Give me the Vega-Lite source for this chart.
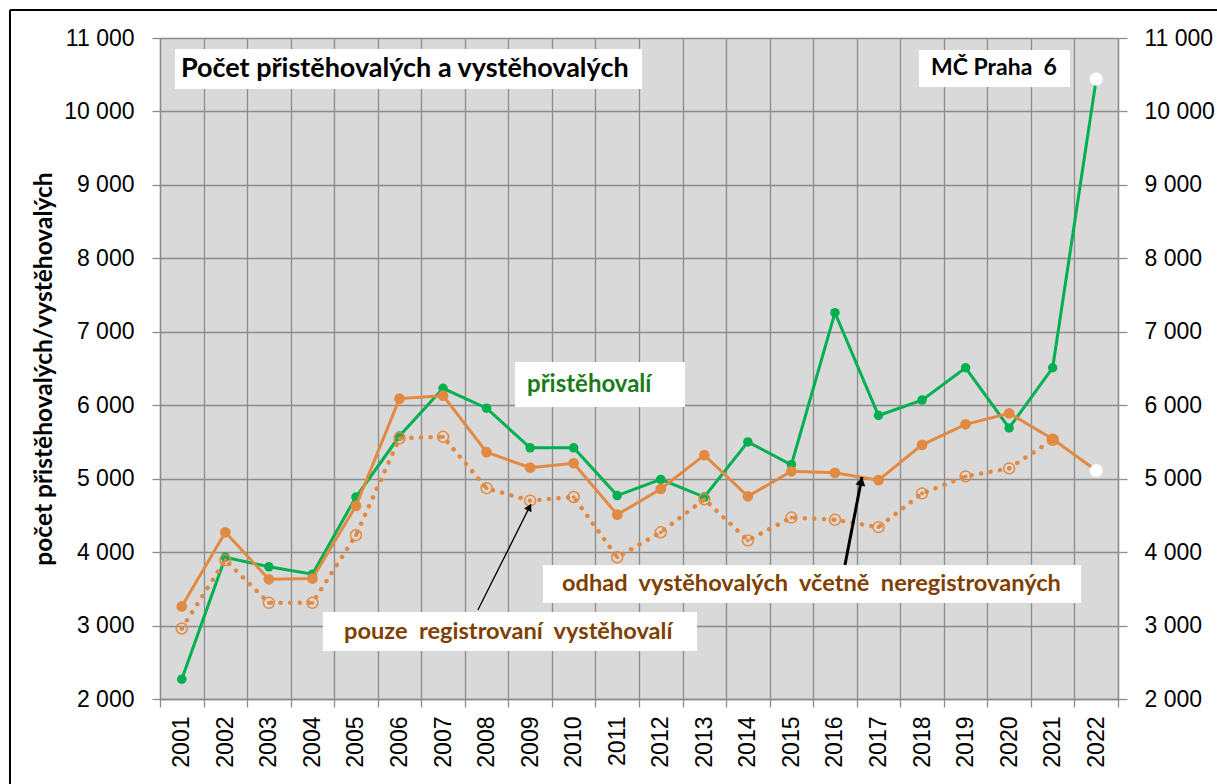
{
  "$schema": "https://vega.github.io/schema/vega-lite/v6.json",
  "width": 958,
  "height": 661,
  "autosize": {"type": "none"},
  "padding": {"left": 160, "top": 38, "right": 99, "bottom": 85},
  "background": "white",
  "config": {"view": {"fill": "#d9d9d9", "stroke": null}},
  "datasets": {
    "series": [
      {"year": 2001, "p": 2270, "o": 3260, "r": 2960},
      {"year": 2002, "p": 3930, "o": 4270, "r": 3890},
      {"year": 2003, "p": 3800, "o": 3630, "r": 3310},
      {"year": 2004, "p": 3700, "o": 3640, "r": 3310},
      {"year": 2005, "p": 4750, "o": 4630, "r": 4230},
      {"year": 2006, "p": 5580, "o": 6090, "r": 5550},
      {"year": 2007, "p": 6230, "o": 6130, "r": 5570},
      {"year": 2008, "p": 5960, "o": 5360, "r": 4870},
      {"year": 2009, "p": 5420, "o": 5150, "r": 4700},
      {"year": 2010, "p": 5420, "o": 5210, "r": 4750},
      {"year": 2011, "p": 4770, "o": 4510, "r": 3930},
      {"year": 2012, "p": 4990, "o": 4860, "r": 4270},
      {"year": 2013, "p": 4750, "o": 5320, "r": 4720},
      {"year": 2014, "p": 5500, "o": 4760, "r": 4160},
      {"year": 2015, "p": 5190, "o": 5100, "r": 4470},
      {"year": 2016, "p": 7260, "o": 5080, "r": 4440},
      {"year": 2017, "p": 5860, "o": 4980, "r": 4340},
      {"year": 2018, "p": 6070, "o": 5460, "r": 4800},
      {"year": 2019, "p": 6510, "o": 5740, "r": 5030},
      {"year": 2020, "p": 5690, "o": 5890, "r": 5140},
      {"year": 2021, "p": 6510, "o": 5540, "r": 5530},
      {"year": 2022, "p": 10440, "o": 5110, "r": null}
    ],
    "boxes": [
      {"x": 2000.844, "x2": 2011.569, "y": 10850, "y2": 10306},
      {"x": 2017.93, "x2": 2021.398, "y": 10837, "y2": 10333},
      {"x": 2008.652, "x2": 2012.556, "y": 6588, "y2": 5975},
      {"x": 2004.243, "x2": 2012.832, "y": 3184, "y2": 2653},
      {"x": 2009.296, "x2": 2021.651, "y": 3824, "y2": 3307}
    ],
    "titleText": [
      {"x": 2000.98, "y": 10578, "text": "Počet přistěhovalých a vystěhovalých"}
    ],
    "blackText": [
      {"x": 2018.206, "y": 10592, "text": "MČ Praha\u00a0 6"}
    ],
    "greenText": [
      {"x": 2008.928, "y": 6275, "text": "přistěhovalí"}
    ],
    "brownText": [
      {"x": 2004.726, "y": 2912, "text": "pouze\u00a0 registrovaní\u00a0 vystěhovalí"},
      {"x": 2009.732, "y": 3565, "text": "odhad\u00a0 vystěhovalých\u00a0 včetně\u00a0 neregistrovaných"}
    ],
    "arrowThin": [{"x": 2007.80, "y": 3211, "x2": 2009.02, "y2": 4655}],
    "arrowThick": [{"x": 2016.23, "y": 3824, "x2": 2016.62, "y2": 5022}],
    "headThin": [{"x": 2008.983, "y": 4611}],
    "headThick": [{"x": 2016.603, "y": 4964}],
    "frame": [
      {"x": 1997.055, "x2": 1997.055, "y": 11381, "y2": 0},
      {"x": 1997.055, "x2": 2026, "y": 11381, "y2": 11381}
    ]
  },
  "layer": [
    {
      "data": {"name": "series"},
      "mark": {"type": "line", "color": "#00b050", "strokeWidth": 3},
      "encoding": {
        "x": {"field": "year", "type": "quantitative",
          "scale": {"domain": [2000.5, 2022.5], "nice": false, "zero": false},
          "axis": {
            "values": [2000.5, 2001.5, 2002.5, 2003.5, 2004.5, 2005.5, 2006.5, 2007.5, 2008.5, 2009.5, 2010.5, 2011.5, 2012.5, 2013.5, 2014.5, 2015.5, 2016.5, 2017.5, 2018.5, 2019.5, 2020.5, 2021.5, 2022.5],
            "title": null, "grid": true, "gridColor": "#8c8c8c", "gridWidth": 1.3,
            "domainColor": "#8c8c8c", "domainWidth": 1.3, "tickColor": "#8c8c8c", "tickWidth": 1.3, "tickSize": 8,
            "labelAngle": -90, "labelOffset": 21.77, "labelPadding": 9,
            "labelExpr": "datum.value < 2022 ? format(datum.value + 0.5, 'd') : ''",
            "labelFont": "Liberation Sans", "labelFontSize": 23, "labelColor": "#000000",
            "labelOverlap": false, "labelFlush": false, "labelBound": false
          }},
        "y": {"field": "p", "type": "quantitative",
          "scale": {"domain": [2000, 11000], "nice": false, "zero": false},
          "axis": {
            "values": [2000, 3000, 4000, 5000, 6000, 7000, 8000, 9000, 10000, 11000],
            "title": "počet přistěhovalých/vystěhovalých",
            "titleFont": "Lato", "titleFontWeight": "bold", "titleFontSize": 24.5, "titleColor": "#000000", "titlePadding": 7,
            "grid": true, "gridColor": "#8c8c8c", "gridWidth": 1.3,
            "domainColor": "#8c8c8c", "domainWidth": 1.3, "tickColor": "#8c8c8c", "tickWidth": 1.3, "tickSize": 8,
            "labelPadding": 18, "labelFont": "Liberation Sans", "labelFontSize": 23, "labelColor": "#000000",
            "labelExpr": "replace(format(datum.value, ','), ',', ' ')",
            "labelOverlap": false, "labelFlush": false
          }}
      }
    },
    {
      "data": {"name": "series"},
      "transform": [{"filter": "datum.year < 2022"}],
      "mark": {"type": "point", "filled": true, "color": "#00b050", "size": 90, "opacity": 1},
      "encoding": {
        "x": {"field": "year", "type": "quantitative", "scale": {"domain": [2000.5, 2022.5], "nice": false, "zero": false}, "axis": null},
        "y": {"field": "p", "type": "quantitative", "scale": {"domain": [2000, 11000], "nice": false, "zero": false}, "axis": null}
      }
    },
    {
      "data": {"name": "series"},
      "mark": {"type": "line", "color": "#e38a42", "strokeWidth": 3},
      "encoding": {
        "x": {"field": "year", "type": "quantitative", "scale": {"domain": [2000.5, 2022.5], "nice": false, "zero": false}, "axis": null},
        "y": {"field": "o", "type": "quantitative",
          "scale": {"domain": [2000, 11000], "nice": false, "zero": false},
          "axis": {
            "orient": "right",
            "values": [2000, 3000, 4000, 5000, 6000, 7000, 8000, 9000, 10000, 11000],
            "title": null, "grid": false,
            "domainColor": "#8c8c8c", "domainWidth": 1.3, "tickColor": "#8c8c8c", "tickWidth": 1.3, "tickSize": 9,
            "labelPadding": 17, "labelFont": "Liberation Sans", "labelFontSize": 23, "labelColor": "#000000",
            "labelExpr": "replace(format(datum.value, ','), ',', ' ')",
            "labelOverlap": false, "labelFlush": false
          }}
      }
    },
    {
      "data": {"name": "series"},
      "transform": [{"filter": "datum.year < 2022"}],
      "mark": {"type": "point", "filled": true, "color": "#e38a42", "size": 115, "opacity": 1},
      "encoding": {
        "x": {"field": "year", "type": "quantitative", "scale": {"domain": [2000.5, 2022.5], "nice": false, "zero": false}, "axis": null},
        "y": {"field": "o", "type": "quantitative", "scale": {"domain": [2000, 11000], "nice": false, "zero": false}, "axis": null}
      }
    },
    {
      "data": {"name": "series"},
      "transform": [{"filter": "datum.year < 2022"}],
      "mark": {"type": "line", "color": "#e38a42", "strokeWidth": 4.5, "strokeDash": [0.1, 9.5], "strokeCap": "round"},
      "encoding": {
        "x": {"field": "year", "type": "quantitative", "scale": {"domain": [2000.5, 2022.5], "nice": false, "zero": false}, "axis": null},
        "y": {"field": "r", "type": "quantitative", "scale": {"domain": [2000, 11000], "nice": false, "zero": false}, "axis": null}
      }
    },
    {
      "data": {"name": "series"},
      "transform": [{"filter": "datum.year < 2022"}],
      "mark": {"type": "point", "filled": false, "color": "#e38a42", "strokeWidth": 1.5, "size": 120, "opacity": 1},
      "encoding": {
        "x": {"field": "year", "type": "quantitative", "scale": {"domain": [2000.5, 2022.5], "nice": false, "zero": false}, "axis": null},
        "y": {"field": "r", "type": "quantitative", "scale": {"domain": [2000, 11000], "nice": false, "zero": false}, "axis": null}
      }
    },
    {
      "data": {"name": "series"},
      "transform": [{"filter": "datum.year < 2022"}],
      "mark": {"type": "point", "filled": true, "color": "#e38a42", "size": 14, "opacity": 1},
      "encoding": {
        "x": {"field": "year", "type": "quantitative", "scale": {"domain": [2000.5, 2022.5], "nice": false, "zero": false}, "axis": null},
        "y": {"field": "r", "type": "quantitative", "scale": {"domain": [2000, 11000], "nice": false, "zero": false}, "axis": null}
      }
    },
    {
      "data": {"name": "series"},
      "transform": [{"filter": "datum.year == 2022"}],
      "mark": {"type": "point", "filled": true, "color": "#ffffff", "size": 170, "opacity": 1},
      "encoding": {
        "x": {"field": "year", "type": "quantitative", "scale": {"domain": [2000.5, 2022.5], "nice": false, "zero": false}, "axis": null},
        "y": {"field": "p", "type": "quantitative", "scale": {"domain": [2000, 11000], "nice": false, "zero": false}, "axis": null}
      }
    },
    {
      "data": {"name": "series"},
      "transform": [{"filter": "datum.year == 2022"}],
      "mark": {"type": "point", "filled": true, "color": "#ffffff", "size": 170, "opacity": 1},
      "encoding": {
        "x": {"field": "year", "type": "quantitative", "scale": {"domain": [2000.5, 2022.5], "nice": false, "zero": false}, "axis": null},
        "y": {"field": "o", "type": "quantitative", "scale": {"domain": [2000, 11000], "nice": false, "zero": false}, "axis": null}
      }
    },
    {
      "data": {"name": "boxes"},
      "mark": {"type": "rect", "color": "#ffffff", "opacity": 1},
      "encoding": {
        "x": {"field": "x", "type": "quantitative", "scale": {"domain": [2000.5, 2022.5], "nice": false, "zero": false}, "axis": null},
        "x2": {"field": "x2"},
        "y": {"field": "y", "type": "quantitative", "scale": {"domain": [2000, 11000], "nice": false, "zero": false}, "axis": null},
        "y2": {"field": "y2"}
      }
    },
    {
      "data": {"name": "titleText"},
      "mark": {"type": "text", "align": "left", "baseline": "middle", "font": "Lato", "fontWeight": "bold", "fontSize": 27, "color": "#000000"},
      "encoding": {
        "x": {"field": "x", "type": "quantitative", "scale": {"domain": [2000.5, 2022.5], "nice": false, "zero": false}, "axis": null},
        "y": {"field": "y", "type": "quantitative", "scale": {"domain": [2000, 11000], "nice": false, "zero": false}, "axis": null},
        "text": {"field": "text"}
      }
    },
    {
      "data": {"name": "blackText"},
      "mark": {"type": "text", "align": "left", "baseline": "middle", "font": "Lato", "fontWeight": "bold", "fontSize": 23, "color": "#000000"},
      "encoding": {
        "x": {"field": "x", "type": "quantitative", "scale": {"domain": [2000.5, 2022.5], "nice": false, "zero": false}, "axis": null},
        "y": {"field": "y", "type": "quantitative", "scale": {"domain": [2000, 11000], "nice": false, "zero": false}, "axis": null},
        "text": {"field": "text"}
      }
    },
    {
      "data": {"name": "greenText"},
      "mark": {"type": "text", "align": "left", "baseline": "middle", "font": "Lato", "fontWeight": "bold", "fontSize": 24, "color": "#1a7a1a"},
      "encoding": {
        "x": {"field": "x", "type": "quantitative", "scale": {"domain": [2000.5, 2022.5], "nice": false, "zero": false}, "axis": null},
        "y": {"field": "y", "type": "quantitative", "scale": {"domain": [2000, 11000], "nice": false, "zero": false}, "axis": null},
        "text": {"field": "text"}
      }
    },
    {
      "data": {"name": "brownText"},
      "mark": {"type": "text", "align": "left", "baseline": "middle", "font": "Lato", "fontWeight": "bold", "fontSize": 23.6, "color": "#7f3f00"},
      "encoding": {
        "x": {"field": "x", "type": "quantitative", "scale": {"domain": [2000.5, 2022.5], "nice": false, "zero": false}, "axis": null},
        "y": {"field": "y", "type": "quantitative", "scale": {"domain": [2000, 11000], "nice": false, "zero": false}, "axis": null},
        "text": {"field": "text"}
      }
    },
    {
      "data": {"name": "arrowThin"},
      "mark": {"type": "rule", "color": "#000000", "strokeWidth": 1.3},
      "encoding": {
        "x": {"field": "x", "type": "quantitative", "scale": {"domain": [2000.5, 2022.5], "nice": false, "zero": false}, "axis": null},
        "x2": {"field": "x2"},
        "y": {"field": "y", "type": "quantitative", "scale": {"domain": [2000, 11000], "nice": false, "zero": false}, "axis": null},
        "y2": {"field": "y2"}
      }
    },
    {
      "data": {"name": "arrowThick"},
      "mark": {"type": "rule", "color": "#000000", "strokeWidth": 3},
      "encoding": {
        "x": {"field": "x", "type": "quantitative", "scale": {"domain": [2000.5, 2022.5], "nice": false, "zero": false}, "axis": null},
        "x2": {"field": "x2"},
        "y": {"field": "y", "type": "quantitative", "scale": {"domain": [2000, 11000], "nice": false, "zero": false}, "axis": null},
        "y2": {"field": "y2"}
      }
    },
    {
      "data": {"name": "headThin"},
      "mark": {"type": "point", "shape": "triangle-up", "filled": true, "color": "#000000", "size": 70, "angle": 26.6, "opacity": 1},
      "encoding": {
        "x": {"field": "x", "type": "quantitative", "scale": {"domain": [2000.5, 2022.5], "nice": false, "zero": false}, "axis": null},
        "y": {"field": "y", "type": "quantitative", "scale": {"domain": [2000, 11000], "nice": false, "zero": false}, "axis": null}
      }
    },
    {
      "data": {"name": "headThick"},
      "mark": {"type": "point", "shape": "triangle-up", "filled": true, "color": "#000000", "size": 100, "angle": 10.9, "opacity": 1},
      "encoding": {
        "x": {"field": "x", "type": "quantitative", "scale": {"domain": [2000.5, 2022.5], "nice": false, "zero": false}, "axis": null},
        "y": {"field": "y", "type": "quantitative", "scale": {"domain": [2000, 11000], "nice": false, "zero": false}, "axis": null}
      }
    },
    {
      "data": {"name": "frame"},
      "mark": {"type": "rule", "color": "#000000", "strokeWidth": 2},
      "encoding": {
        "x": {"field": "x", "type": "quantitative", "scale": {"domain": [2000.5, 2022.5], "nice": false, "zero": false}, "axis": null},
        "x2": {"field": "x2"},
        "y": {"field": "y", "type": "quantitative", "scale": {"domain": [2000, 11000], "nice": false, "zero": false}, "axis": null},
        "y2": {"field": "y2"}
      }
    }
  ],
  "resolve": {"axis": {"x": "independent", "y": "independent"}}
}
